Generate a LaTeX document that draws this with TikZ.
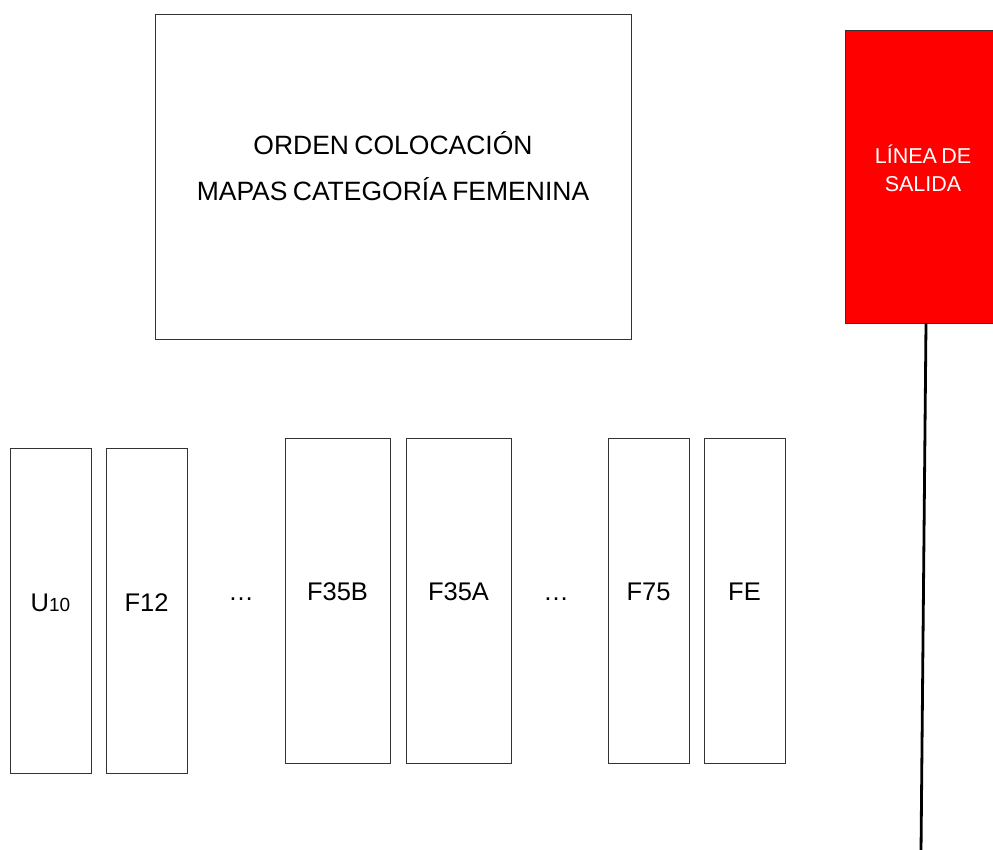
\documentclass[tikz,border=0pt]{standalone}
\usepackage{fontspec}
\setmainfont{Liberation Sans}
\usetikzlibrary{positioning}

\begin{document}
\begin{tikzpicture}[x=1pt,y=-1pt,
  mapbox/.style={draw=black!80,line width=0.9pt,inner sep=0pt,outer sep=0pt,
    anchor=north west,minimum width=81pt,minimum height=325pt},
  widebox/.style={mapbox,minimum width=105pt},
  lbl/.style={font=\fontsize{25.5}{30}\selectfont,inner sep=0pt}]
\useasboundingbox (0,0) rectangle (993,850);
% Title
\node[mapbox,minimum width=476pt,minimum height=325pt] (title) at (155,14) {};
\node[font={\fontsize{26.5}{46}\selectfont\spaceskip 0.2em\relax},align=center,inner sep=0pt]
  (titletxt) at ([yshift=10pt]title.center)
  {ORDEN COLOCACIÓN\\MAPAS CATEGORÍA FEMENINA};
% Start line
\node[mapbox,fill=red,minimum width=150pt,minimum height=293pt] (start) at (845,30) {};
\node[font={\fontsize{21.5}{28}\selectfont\spaceskip 0.2em\relax},align=center,text=white,inner sep=0pt]
  (starttxt) at ([xshift=3pt,yshift=8pt]start.center) {LÍNEA DE\\SALIDA};
\coordinate (lineend) at (921,852);
\draw[line width=2.8pt] ([xshift=6pt]start.south) -- (lineend);
% Maps
\node[mapbox] (u10) at (10,448) {};
\node[mapbox] (f12) at (106,448) {};
\node[widebox] (f35b) at (285,438) {};
\node[widebox] (f35a) at (406,438) {};
\node[mapbox] (f75) at (608,438) {};
\node[mapbox] (fe) at (704,438) {};
% Labels
\node[lbl] (u10txt) at ([yshift=8pt]u10.center) {U{\fontsize{19}{22}\selectfont 10}};
\node[lbl] (f12txt) at ([yshift=8pt]f12.center) {F12};
\node[lbl] (f35btxt) at ([yshift=9pt]f35b.center) {F35B};
\node[lbl] (f35atxt) at ([yshift=9pt]f35a.center) {F35A};
\node[lbl] (f75txt) at ([yshift=9pt]f75.center) {F75};
\node[lbl] (fetxt) at ([yshift=9pt]fe.center) {FE};
\node[lbl] (dotsa) at (241,599) {\ldots};
\node[lbl] (dotsb) at (556,599) {\ldots};
\end{tikzpicture}
\end{document}
